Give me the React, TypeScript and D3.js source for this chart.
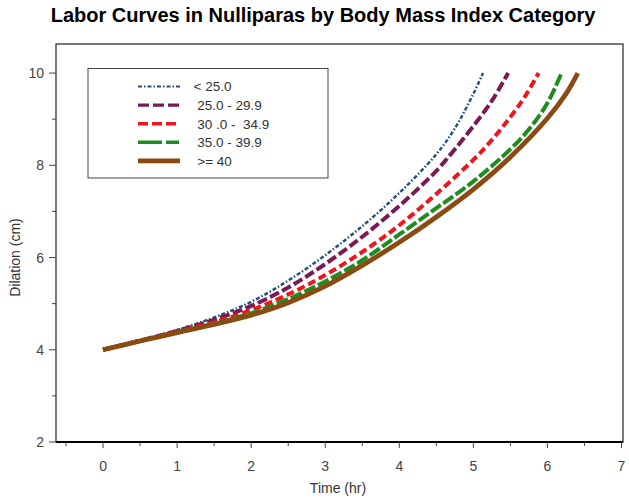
import React from "react";
import * as d3 from "d3";

const title = "Labor Curves in Nulliparas by Body Mass Index Category";
const xLabel = "Time (hr)";
const yLabel = "Dilation (cm)";
const xTicks = [0, 1, 2, 3, 4, 5, 6, 7];
const xMinorTicks = [-0.5, 0.5, 1.5, 2.5, 3.5, 4.5, 5.5, 6.5];
const yTicks = [2, 4, 6, 8, 10];
const yMinorTicks = [3, 5, 7, 9];

const seriesNames = ["< 25.0", " 25.0 - 29.9", " 30 .0 -  34.9", " 35.0 - 39.9", " >= 40"];

const timeBlue = [0, 0.5, 1, 1.5, 2, 2.5, 3, 3.5, 4, 4.5, 4.75, 5, 5.13];
const dilBlue = [4, 4.2, 4.43, 4.7, 5.04, 5.5, 6.05, 6.68, 7.4, 8.24, 8.8, 9.55, 10];

const timePurple = [0, 0.5, 1, 1.5, 2, 2.5, 3, 3.5, 4, 4.5, 4.75, 5, 5.25, 5.47];
const dilPurple = [4, 4.2, 4.41, 4.65, 4.95, 5.35, 5.86, 6.45, 7.12, 7.88, 8.35, 8.85, 9.4, 10];

const timeRed = [0, 0.5, 1, 1.5, 2, 2.5, 3, 3.5, 4, 4.5, 5, 5.25, 5.5, 5.7, 5.88];
const dilRed = [4, 4.19, 4.39, 4.6, 4.86, 5.2, 5.62, 6.12, 6.7, 7.38, 8.12, 8.55, 9.05, 9.5, 10];

const timeGreen = [0, 0.5, 1, 1.5, 2, 2.5, 3, 3.5, 4, 4.5, 5, 5.5, 5.75, 6, 6.19];
const dilGreen = [4, 4.19, 4.38, 4.57, 4.79, 5.1, 5.48, 5.94, 6.5, 7.07, 7.65, 8.35, 8.78, 9.35, 10];

const timeBrown = [0, 0.5, 1, 1.5, 2, 2.5, 3, 3.5, 4, 4.5, 5, 5.5, 6, 6.25, 6.41];
const dilBrown = [4, 4.19, 4.37, 4.55, 4.75, 5.02, 5.38, 5.83, 6.33, 6.88, 7.48, 8.18, 9.02, 9.55, 10];

const seriesTimes = [timeBlue, timePurple, timeRed, timeGreen, timeBrown];
const seriesDils = [dilBlue, dilPurple, dilRed, dilGreen, dilBrown];

const colors = ["#24527d", "#7a1a55", "#f0141e", "#1e8c1e", "#8b4a12"];
const widths = [2.5, 4, 4, 4, 4.8];
const dashes = ["4,2,1.5,2", "10,3.5", "8,4", "12,3,12,3", "none"];
const legendWidths = [2, 3.4, 3.4, 3.4, 4.8];
const legendDashes = ["4,2,1.5,2", "11,4", "10,4", "24,4,13,4", "none"];

const W = 629;
const H = 499;
const left = 56, right = 623, top = 44, bottom = 442;
const font = "'Liberation Sans', Arial, sans-serif";

export default function App() {
  const x = d3.scaleLinear().domain([-0.635, 7.02]).range([left, right]);
  const y = d3.scaleLinear().domain([2, 10.63]).range([bottom, top]);
  const line = d3
    .line<[number, number]>()
    .x((d) => x(d[0]))
    .y((d) => y(d[1]))
    .curve(d3.curveCatmullRom.alpha(0.5));

  const legX = 88, legY = 68.5, legW = 240, legH = 109.5;
  const rowY0 = 86.5, rowStep = 18.6;

  return (
    <svg
      width={W}
      height={H}
      style={{ position: "absolute", left: 0, top: 0, background: "#fff" }}
      fontFamily={font}
    >
      <rect x={0} y={0} width={W} height={H} fill="#fff" />
      <text x={323} y={22} textAnchor="middle" fontSize={20} fontWeight="bold" fill="#000">
        {title}
      </text>

      {/* frame */}
      <rect x={left} y={top} width={right - left} height={bottom - top} fill="none" stroke="#222" strokeWidth={1.2} />
      <line x1={left} x2={right} y1={bottom} y2={bottom} stroke="#000" strokeWidth={2} />

      {/* x ticks */}
      {xTicks.map((t) => (
        <g key={"xt" + t}>
          <line x1={x(t)} x2={x(t)} y1={bottom} y2={bottom + 6} stroke="#444" strokeWidth={1} />
          <text x={x(t)} y={471} textAnchor="middle" fontSize={14} fill="#444">
            {t}
          </text>
        </g>
      ))}
      {xMinorTicks.map((t) => (
        <line key={"xm" + t} x1={x(t)} x2={x(t)} y1={bottom} y2={bottom + 4} stroke="#444" strokeWidth={1} />
      ))}
      <text x={338} y={493} textAnchor="middle" fontSize={14} fill="#333">
        {xLabel}
      </text>

      {/* y ticks */}
      {yTicks.map((t) => (
        <g key={"yt" + t}>
          <line x1={left - 7} x2={left} y1={y(t)} y2={y(t)} stroke="#444" strokeWidth={1} />
          <text x={44} y={y(t) + 5} textAnchor="end" fontSize={14} fill="#444">
            {t}
          </text>
        </g>
      ))}
      {yMinorTicks.map((t) => (
        <line key={"ym" + t} x1={left - 4} x2={left} y1={y(t)} y2={y(t)} stroke="#444" strokeWidth={1} />
      ))}
      <text
        transform={`translate(20,${y(6)}) rotate(-90)`}
        textAnchor="middle"
        fontSize={14}
        fill="#333"
      >
        {yLabel}
      </text>

      {/* curves */}
      {seriesTimes.map((ts, i) => {
        const pts = ts.map((t, j) => [t, seriesDils[i][j]] as [number, number]);
        return (
          <path
            key={"s" + i}
            d={line(pts) || ""}
            fill="none"
            stroke={colors[i]}
            strokeWidth={widths[i]}
            strokeDasharray={dashes[i]}
          />
        );
      })}

      {/* legend */}
      <rect x={legX} y={legY} width={legW} height={legH} fill="#fff" stroke="#444" strokeWidth={1} />
      {seriesNames.map((name, i) => {
        const ry = rowY0 + i * rowStep;
        return (
          <g key={"l" + i}>
            <line
              x1={138}
              x2={180}
              y1={ry}
              y2={ry}
              stroke={colors[i]}
              strokeWidth={legendWidths[i]}
              strokeDasharray={legendDashes[i]}
            />
            <text x={193.5} y={ry + 4.8} fontSize={13.5} fill="#333" style={{ whiteSpace: "pre" }}>
              {name}
            </text>
          </g>
        );
      })}
    </svg>
  );
}
